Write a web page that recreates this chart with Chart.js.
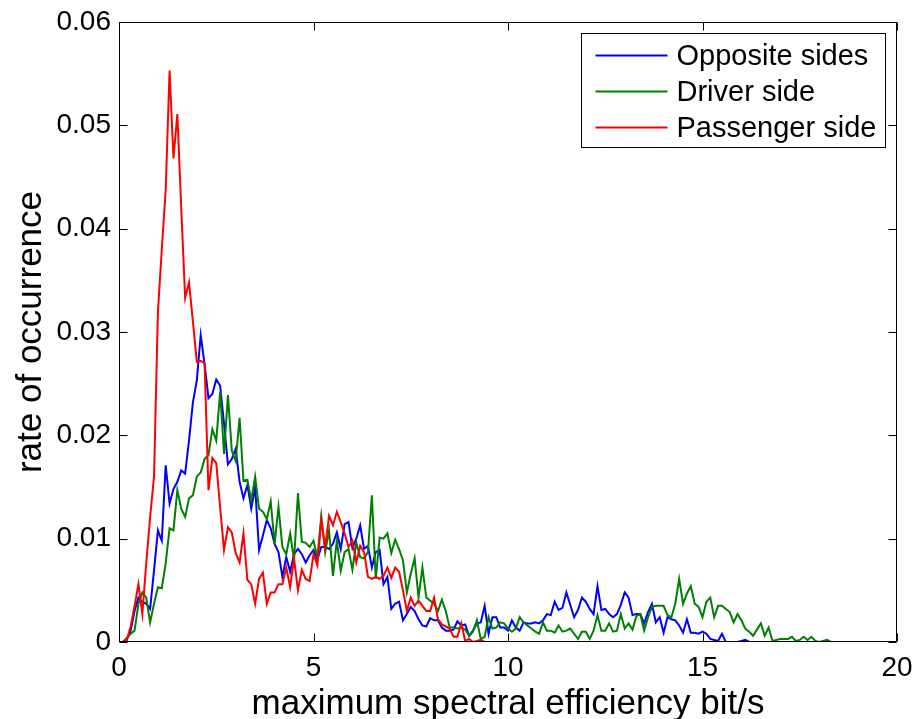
<!DOCTYPE html>
<html>
<head>
<meta charset="utf-8">
<script src="https://cdn.jsdelivr.net/npm/chart.js@4.4.1/dist/chart.umd.min.js"></script>
<style>
  html, body { margin: 0; padding: 0; background: #ffffff; }
  #wrap { width: 914px; height: 719px; }
</style>
</head>
<body>
<div id="wrap"><canvas id="c" width="914" height="719"></canvas></div>
<script>
// ---- data (bins every 0.1 bit/s from 0 to 20) ----
const binStep = 0.1;

const seriesLabels = ['Opposite sides', 'Driver side', 'Passenger side'];

const oppositeSides = [
  0, 0, 0.0002, 0.0011, 0.0030, 0.0043, 0.0039, 0.0037, 0.0032, 0.0069,
  0.0108, 0.0098, 0.0171, 0.0134, 0.0148, 0.0155, 0.0166, 0.0163, 0.0195, 0.0232,
  0.0253, 0.0297, 0.0269, 0.0236, 0.0240, 0.0254, 0.0248, 0.0211, 0.0172, 0.0177,
  0.0187, 0.0155, 0.0139, 0.0152, 0.0129, 0.0150, 0.0089, 0.0103, 0.0118, 0.0110,
  0.0095, 0.0087, 0.0063, 0.0082, 0.0068, 0.0085, 0.0090, 0.0085, 0.0077, 0.0084,
  0.0089, 0.0080, 0.0092, 0.0092, 0.0090, 0.0095, 0.0106, 0.0090, 0.0114, 0.0116,
  0.0091, 0.0100, 0.0113, 0.0090, 0.0093, 0.0072, 0.0087, 0.0089, 0.0056, 0.0063,
  0.0032, 0.0037, 0.0039, 0.0021, 0.0027, 0.0034, 0.0030, 0.0022, 0.0016, 0.0015,
  0.0023, 0.0021, 0.0021, 0.0014, 0.0011, 0.0011, 0.0012, 0.0020, 0.0016, 0.0017,
  0.0006, 0.0011, 0.0018, 0.0019, 0.0035, 0.0008, 0.0024, 0.0024, 0.0014, 0.0014,
  0.0011, 0.0021, 0.0014, 0.0011, 0.0019, 0.0018, 0.0018, 0.0019, 0.0018, 0.0021,
  0.0027, 0.0026, 0.0039, 0.0031, 0.0033, 0.0048, 0.0036, 0.0024, 0.0031, 0.0043,
  0.0039, 0.0032, 0.0027, 0.0054, 0.0031, 0.0032, 0.0027, 0.0024, 0.0027, 0.0036,
  0.0048, 0.0043, 0.0026, 0.0027, 0.0027, 0.0018, 0.0029, 0.0037, 0.0019, 0.0024,
  0.0009, 0.0024, 0.0022, 0.0021, 0.0016, 0.0009, 0.0022, 0.0009, 0.0009, 0.0008,
  0.0010, 0.0008, 0.0003, 0.0002, 0.0001, 0.0008, 0, 0, 0, 0,
  0.0001, 0.0002, 0, 0, 0, 0, 0, 0, 0, 0,
  0, 0, 0, 0, 0, 0, 0, 0, 0, 0,
  0, 0, 0, 0, 0, 0, 0, 0, 0, 0,
  0, 0, 0, 0, 0, 0, 0, 0, 0, 0,
  0
];

const driverSide = [
  0, 0, 0.0004, 0.0008, 0.0011, 0.0037, 0.0048, 0.0043, 0.0019, 0.0037,
  0.0053, 0.0052, 0.0076, 0.0110, 0.0108, 0.0147, 0.0129, 0.0121, 0.0139, 0.0142,
  0.0160, 0.0164, 0.0177, 0.0181, 0.0206, 0.0195, 0.0242, 0.0182, 0.0239, 0.0185,
  0.0175, 0.0217, 0.0156, 0.0157, 0.0137, 0.0160, 0.0129, 0.0126, 0.0119, 0.0136,
  0.0095, 0.0131, 0.0092, 0.0085, 0.0105, 0.0079, 0.0144, 0.0097, 0.0096, 0.0092,
  0.0098, 0.0082, 0.0122, 0.0087, 0.0108, 0.0064, 0.0098, 0.0069, 0.0087, 0.0090,
  0.0070, 0.0096, 0.0082, 0.0081, 0.0087, 0.0142, 0.0061, 0.0101, 0.0100, 0.0105,
  0.0086, 0.0099, 0.0090, 0.0079, 0.0048, 0.0066, 0.0081, 0.0043, 0.0072, 0.0043,
  0.0040, 0.0037, 0.0030, 0.0041, 0.0030, 0.0014, 0.0014, 0.0013, 0.0014, 0.0012,
  0.0006, 0.0010, 0.0021, 0.0003, 0.0005, 0.0024, 0.0013, 0.0014, 0.0019, 0.0018,
  0.0013, 0.0010, 0.0013, 0.0024, 0.0019, 0.0016, 0.0013, 0.0010, 0.0008, 0.0019,
  0.0011, 0.0011, 0.0009, 0.0016, 0.0010, 0.0011, 0.0013, 0.0008, 0.0003, 0.0010,
  0.0010, 0.0003, 0.0011, 0.0026, 0.0011, 0.0011, 0.0018, 0.0010, 0.0011, 0.0027,
  0.0013, 0.0018, 0.0012, 0.0025, 0.0027, 0.0011, 0.0024, 0.0034, 0.0035, 0.0035,
  0.0035, 0.0026, 0.0024, 0.0037, 0.0061, 0.0037, 0.0047, 0.0054, 0.0037, 0.0034,
  0.0024, 0.0039, 0.0043, 0.0024, 0.0035, 0.0035, 0.0032, 0.0029, 0.0019, 0.0027,
  0.0021, 0.0013, 0.0010, 0.0006, 0.0012, 0.0018, 0.0006, 0.0014, 0.0001, 0.0002,
  0.0003, 0.0003, 0.0003, 0.0005, 0.0001, 0.0002, 0.0005, 0.0002, 0.0005, 0.0001,
  0, 0.0001, 0.0002, 0, 0, 0, 0, 0, 0, 0,
  0, 0, 0, 0, 0, 0, 0, 0, 0, 0,
  0
];

const passengerSide = [
  0, 0, 0.0002, 0.0015, 0.0035, 0.0056, 0.0027, 0.0076, 0.0121, 0.0160,
  0.0319, 0.0380, 0.0437, 0.0553, 0.0468, 0.0511, 0.0420, 0.0333, 0.0348, 0.0310,
  0.0271, 0.0272, 0.0270, 0.0147, 0.0178, 0.0173, 0.0130, 0.0089, 0.0111, 0.0106,
  0.0086, 0.0077, 0.0105, 0.0060, 0.0056, 0.0037, 0.0061, 0.0067, 0.0037, 0.0048,
  0.0048, 0.0056, 0.0056, 0.0072, 0.0053, 0.0081, 0.0050, 0.0070, 0.0061, 0.0059,
  0.0085, 0.0074, 0.0118, 0.0092, 0.0122, 0.0113, 0.0126, 0.0116, 0.0105, 0.0092,
  0.0098, 0.0077, 0.0093, 0.0087, 0.0063, 0.0061, 0.0063, 0.0061, 0.0064, 0.0072,
  0.0062, 0.0072, 0.0068, 0.0050, 0.0030, 0.0043, 0.0035, 0.0040, 0.0035, 0.0030,
  0.0030, 0.0043, 0.0022, 0.0017, 0.0015, 0.0013, 0.0005, 0.0005, 0.0018, 0.0001,
  0.0003, 0, 0.0001, 0.0002, 0, 0, 0, 0, 0, 0,
  0, 0, 0, 0, 0, 0, 0, 0, 0, 0,
  0, 0, 0, 0, 0, 0, 0, 0, 0, 0,
  0, 0, 0, 0, 0, 0, 0, 0, 0, 0,
  0, 0, 0, 0, 0, 0, 0, 0, 0, 0,
  0, 0, 0, 0, 0, 0, 0, 0, 0, 0,
  0, 0, 0, 0, 0, 0, 0, 0, 0, 0,
  0, 0, 0, 0, 0, 0, 0, 0, 0, 0,
  0, 0, 0, 0, 0, 0, 0, 0, 0, 0,
  0, 0, 0, 0, 0, 0, 0, 0, 0, 0,
  0, 0, 0, 0, 0, 0, 0, 0, 0, 0,
  0
];

const xTickValues = [0, 5, 10, 15, 20];
const xTickLabels = ['0', '5', '10', '15', '20'];
const yTickValues = [0, 0.01, 0.02, 0.03, 0.04, 0.05, 0.06];
const yTickLabels = ['0', '0.01', '0.02', '0.03', '0.04', '0.05', '0.06'];

const xTitle = 'maximum spectral efficiency bit/s';
const yTitle = 'rate of occurrence';

// ---- build chart ----
const FONT = "'Liberation Sans', Arial, Helvetica, sans-serif";
const colors = ['#0000ff', '#008000', '#ff0000'];
const series = [oppositeSides, driverSide, passengerSide];

function toPoints(values) {
  return values.map((v, i) => ({ x: Math.round(i * binStep * 10) / 10, y: v }));
}

const datasets = series.map((vals, k) => ({
  label: seriesLabels[k],
  data: toPoints(vals),
  borderColor: colors[k],
  backgroundColor: colors[k],
  borderWidth: 2,
  pointRadius: 0,
  tension: 0,
  fill: false,
  order: 2 - k
}));

const framePlugin = {
  id: 'frame',
  afterDatasetsDraw(chart) {
    const { ctx, chartArea: a, scales: { x, y } } = chart;
    ctx.save();
    ctx.strokeStyle = '#000000';
    ctx.lineWidth = 1;
    const L = Math.round(a.left) + 0.5, R = Math.round(a.right) - 0.5;
    const T = Math.round(a.top) + 0.5, B = Math.round(a.bottom) - 0.5;
    ctx.strokeRect(L, T, R - L, B - T);
    const tl = 8;
    ctx.beginPath();
    xTickValues.forEach(v => {
      const px = Math.round(x.getPixelForValue(v)) + 0.5;
      ctx.moveTo(px, B); ctx.lineTo(px, B - tl);
      ctx.moveTo(px, T); ctx.lineTo(px, T + tl);
    });
    yTickValues.forEach(v => {
      const py = Math.round(y.getPixelForValue(v)) + 0.5;
      ctx.moveTo(L, py); ctx.lineTo(L + tl, py);
      ctx.moveTo(R, py); ctx.lineTo(R - tl, py);
    });
    ctx.stroke();
    ctx.restore();
  }
};

const legendPlugin = {
  id: 'boxLegend',
  afterDraw(chart) {
    const { ctx, chartArea: a } = chart;
    const boxW = 304, boxH = 114;
    const bx = Math.round(a.right - 12 - boxW) + 0.5;
    const by = Math.round(a.top + 11) + 0.5;
    ctx.save();
    ctx.fillStyle = '#ffffff';
    ctx.fillRect(bx, by, boxW, boxH);
    ctx.strokeStyle = '#000000';
    ctx.lineWidth = 1;
    ctx.strokeRect(bx, by, boxW, boxH);
    ctx.font = '29px ' + FONT;
    ctx.textBaseline = 'middle';
    ctx.textAlign = 'left';
    seriesLabels.forEach((lab, k) => {
      const ry = by + 22 + k * 36;
      ctx.strokeStyle = colors[k];
      ctx.lineWidth = 2;
      ctx.beginPath();
      ctx.moveTo(bx + 14, ry);
      ctx.lineTo(bx + 86, ry);
      ctx.stroke();
      ctx.fillStyle = '#000000';
      ctx.fillText(lab, bx + 95, ry + 1);
    });
    ctx.restore();
  }
};

new Chart(document.getElementById('c'), {
  type: 'line',
  data: { datasets },
  options: {
    responsive: false,
    animation: false,
    events: [],
    layout: { padding: { left: 0, right: 17, top: 22, bottom: 0 } },
    plugins: {
      legend: { display: false },
      tooltip: { enabled: false }
    },
    scales: {
      x: {
        type: 'linear',
        min: 0, max: 20,
        afterBuildTicks(scale) { scale.ticks = xTickValues.map(v => ({ value: v })); },
        afterFit(scale) { scale.height = 77; scale.paddingLeft = 0; scale.paddingRight = 0; },
        grid: { display: false, drawTicks: false },
        border: { display: false },
        ticks: {
          color: '#000000',
          font: { family: FONT, size: 28 },
          padding: 9,
          maxRotation: 0,
          callback(v) { const i = xTickValues.indexOf(v); return i >= 0 ? xTickLabels[i] : ''; }
        },
        title: {
          display: true, text: xTitle, color: '#000000',
          font: { family: FONT, size: 35, lineHeight: 1 },
          padding: { top: 0, bottom: -3 }
        }
      },
      y: {
        type: 'linear',
        min: 0, max: 0.06,
        afterBuildTicks(scale) { scale.ticks = yTickValues.map(v => ({ value: v })); },
        afterFit(scale) { scale.width = 119; scale.paddingTop = 0; scale.paddingBottom = 0; },
        grid: { display: false, drawTicks: false },
        border: { display: false },
        ticks: {
          color: '#000000',
          font: { family: FONT, size: 28 },
          padding: 8,
          callback(v) { const i = Math.round(v * 100); return yTickLabels[i] !== undefined ? yTickLabels[i] : ''; }
        },
        title: {
          display: true, text: yTitle, color: '#000000',
          font: { family: FONT, size: 35, lineHeight: 1 },
          padding: { top: 14, bottom: 0 }
        }
      }
    }
  },
  plugins: [framePlugin, legendPlugin]
});
</script>
</body>
</html>
